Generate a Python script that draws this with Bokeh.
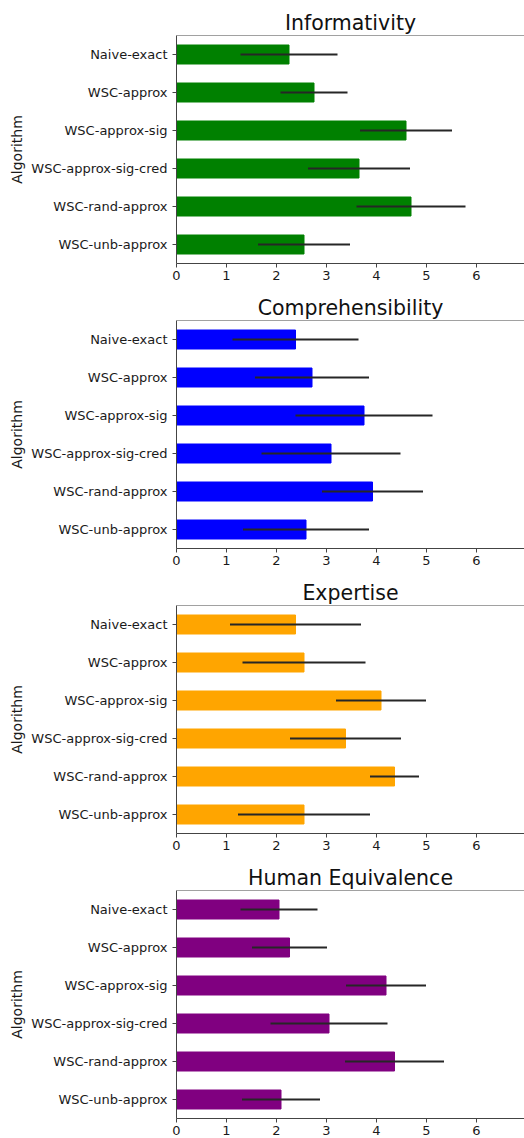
from bokeh.plotting import figure
from bokeh.layouts import column
from bokeh.models import FactorRange, Range1d, FixedTicker, Span
from bokeh.embed import file_html
from bokeh.resources import INLINE

categories = ["Naive-exact", "WSC-approx", "WSC-approx-sig",
              "WSC-approx-sig-cred", "WSC-rand-approx", "WSC-unb-approx"]

titles = ["Informativity", "Comprehensibility", "Expertise", "Human Equivalence"]
colors = ["#008000", "#0000ff", "#ffa500", "#800080"]

informativity_mean = [2.25, 2.75, 4.59, 3.65, 4.69, 2.55]
informativity_err = [0.97, 0.67, 0.92, 1.02, 1.09, 0.92]

comprehensibility_mean = [2.38, 2.71, 3.75, 3.09, 3.92, 2.59]
comprehensibility_err = [1.26, 1.14, 1.37, 1.39, 1.01, 1.26]

expertise_mean = [2.38, 2.55, 4.09, 3.38, 4.36, 2.55]
expertise_err = [1.31, 1.23, 0.90, 1.11, 0.49, 1.32]

human_eq_mean = [2.05, 2.26, 4.19, 3.05, 4.36, 2.09]
human_eq_err = [0.77, 0.75, 0.80, 1.17, 0.99, 0.78]

means = [informativity_mean, comprehensibility_mean, expertise_mean, human_eq_mean]
errs = [informativity_err, comprehensibility_err, expertise_err, human_eq_err]

x_ticks = [0, 1, 2, 3, 4, 5, 6, 7]

FONT = "DejaVu Sans"
SPINE = "#444444"
TEXT = "#1a1a1a"

plots = []
heights = [285, 285, 285, 283]
bottoms = [22, 22, 22, 20]
for i in range(4):
    p = figure(width=524, height=heights[i],
               y_range=FactorRange(*reversed(categories)),
               x_range=Range1d(0, 6.96),
               output_backend="svg", toolbar_location=None,
               min_border_left=176, min_border_right=0,
               min_border_top=35, min_border_bottom=bottoms[i],
               title=titles[i])
    p.hbar(y=categories, left=0, right=means[i], height=0.5,
           color=colors[i], line_color=colors[i])
    lo = [m - e for m, e in zip(means[i], errs[i])]
    hi = [m + e for m, e in zip(means[i], errs[i])]
    p.segment(x0=lo, y0=categories, x1=hi, y1=categories,
              line_color="#262626", line_width=2)

    p.title.text_font = FONT
    p.title.text_font_size = "20.5px"
    p.title.text_font_style = "normal"
    p.title.text_color = "#111111"
    p.title.align = "center"
    p.title.standoff = 2

    p.outline_line_color = None
    p.add_layout(Span(location=6, dimension="width", line_color=SPINE, line_width=1))
    p.xgrid.grid_line_color = None
    p.ygrid.grid_line_color = None

    p.xaxis.ticker = FixedTicker(ticks=x_ticks)
    p.xaxis.minor_tick_line_color = None
    p.xaxis.major_tick_in = 0
    p.xaxis.major_tick_out = 4
    p.xaxis.major_label_standoff = 3
    p.xaxis.major_label_text_font = FONT
    p.xaxis.major_label_text_font_size = "13px"
    p.xaxis.major_label_text_color = TEXT
    p.xaxis.axis_line_color = SPINE
    p.xaxis.major_tick_line_color = SPINE

    p.yaxis.axis_label = "Algorithm"
    p.yaxis.axis_label_text_font = FONT
    p.yaxis.axis_label_text_font_size = "14px"
    p.yaxis.axis_label_text_font_style = "normal"
    p.yaxis.axis_label_text_color = TEXT
    p.yaxis.axis_label_standoff = 3
    p.yaxis.major_tick_in = 0
    p.yaxis.major_tick_out = 4
    p.yaxis.major_label_standoff = 5
    p.yaxis.major_label_text_font = FONT
    p.yaxis.major_label_text_font_size = "13px"
    p.yaxis.major_label_text_color = TEXT
    p.yaxis.axis_line_color = SPINE
    p.yaxis.major_tick_line_color = SPINE
    plots.append(p)

layout = column(*plots, spacing=0)
open("out.html", "w").write(file_html(layout, INLINE))
